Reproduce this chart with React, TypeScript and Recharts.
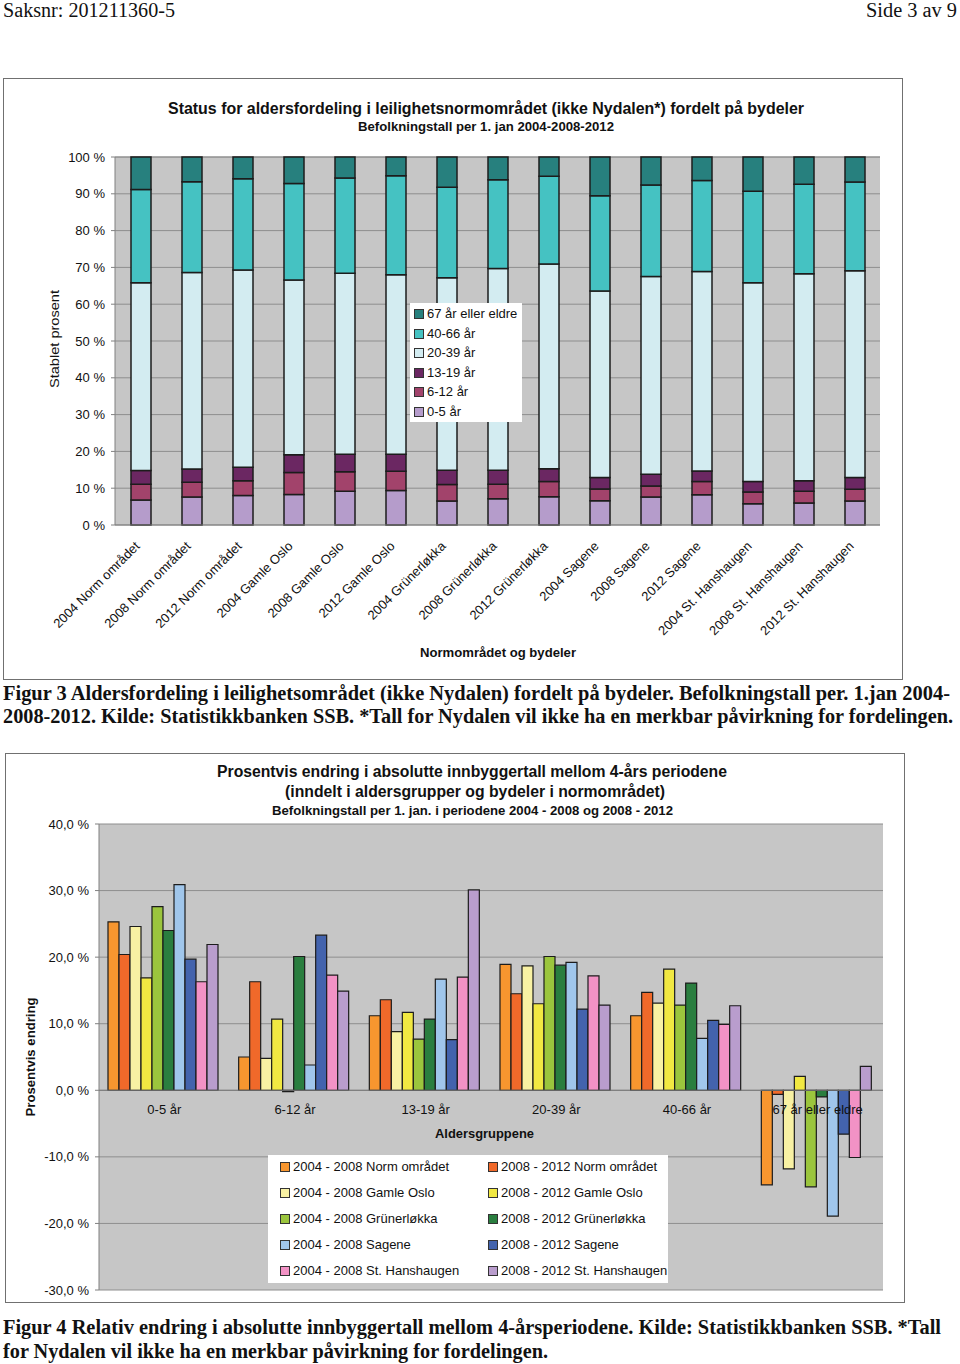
import React from "react";
import { BarChart, Bar, XAxis, YAxis, CartesianGrid, ReferenceLine } from "recharts";

// ---------- Chart 1 data (stacked percent) ----------
const categories1 = [
  "2004 Norm området", "2008 Norm området", "2012 Norm området",
  "2004 Gamle Oslo", "2008 Gamle Oslo", "2012 Gamle Oslo",
  "2004 Grünerløkka", "2008 Grünerløkka", "2012 Grünerløkka",
  "2004 Sagene", "2008 Sagene", "2012 Sagene",
  "2004 St. Hanshaugen", "2008 St. Hanshaugen", "2012 St. Hanshaugen",
];
const age0_5 = [6.8, 7.6, 8.0, 8.3, 9.2, 9.4, 6.5, 7.1, 7.7, 6.6, 7.6, 8.2, 5.8, 6.0, 6.5];
const age6_12 = [4.3, 4.0, 4.0, 6.0, 5.3, 5.2, 4.5, 4.0, 4.1, 3.2, 3.0, 3.6, 3.2, 3.2, 3.2];
const age13_19 = [3.7, 3.6, 3.7, 4.8, 4.7, 4.6, 3.9, 3.8, 3.5, 3.1, 3.2, 2.9, 2.8, 2.8, 3.2];
const age20_39 = [51.0, 53.4, 53.6, 47.5, 49.2, 48.8, 52.3, 54.8, 55.6, 50.7, 53.7, 54.2, 54.0, 56.3, 56.2];
const age40_66 = [25.4, 24.7, 24.8, 26.2, 25.9, 26.9, 24.6, 24.1, 23.9, 25.9, 24.9, 24.7, 24.9, 24.3, 24.1];
const age67 = [8.8, 6.7, 5.9, 7.2, 5.7, 5.1, 8.2, 6.2, 5.2, 10.5, 7.6, 6.4, 9.3, 7.4, 6.8];
const yTicks1 = [0, 10, 20, 30, 40, 50, 60, 70, 80, 90, 100];

const ageSeries = [
  { key: "a0_5", name: "0-5 år", color: "#b59ccb", values: age0_5 },
  { key: "a6_12", name: "6-12 år", color: "#a2436b", values: age6_12 },
  { key: "a13_19", name: "13-19 år", color: "#6b2762", values: age13_19 },
  { key: "a20_39", name: "20-39 år", color: "#d3ecf1", values: age20_39 },
  { key: "a40_66", name: "40-66 år", color: "#45c2c2", values: age40_66 },
  { key: "a67", name: "67 år eller eldre", color: "#27807e", values: age67 },
];

// ---------- Chart 2 data (grouped change) ----------
const groups2 = ["0-5 år", "6-12 år", "13-19 år", "20-39 år", "40-66 år", "67 år eller eldre"];
const normA = [25.3, 5.0, 11.2, 18.9, 11.2, -14.2];
const normB = [20.4, 16.3, 13.6, 14.5, 14.7, -0.6];
const gamleA = [24.6, 4.8, 8.8, 18.7, 13.1, -11.8];
const gamleB = [16.9, 10.7, 11.7, 13.0, 18.2, 2.1];
const grunA = [27.6, -0.2, 7.7, 20.1, 12.8, -14.5];
const grunB = [24.0, 20.1, 10.7, 18.8, 16.1, -1.0];
const sageA = [30.9, 3.8, 16.7, 19.2, 7.8, -18.9];
const sageB = [19.7, 23.3, 7.6, 12.2, 10.5, -6.6];
const hansA = [16.3, 17.3, 17.0, 17.2, 9.9, -10.1];
const hansB = [21.9, 14.9, 30.1, 12.8, 12.7, 3.6];
const yTicks2 = [-30, -20, -10, 0, 10, 20, 30, 40];

const changeSeries = [
  { key: "s1", name: "2004 - 2008 Norm området", color: "#f7962f", values: normA },
  { key: "s2", name: "2008 - 2012 Norm området", color: "#f0692a", values: normB },
  { key: "s3", name: "2004 - 2008 Gamle Oslo", color: "#f8f1a3", values: gamleA },
  { key: "s4", name: "2008 - 2012 Gamle Oslo", color: "#f1e842", values: gamleB },
  { key: "s5", name: "2004 - 2008 Grünerløkka", color: "#9bc53d", values: grunA },
  { key: "s6", name: "2008 - 2012 Grünerløkka", color: "#2a7e3f", values: grunB },
  { key: "s7", name: "2004 - 2008 Sagene", color: "#a0c6eb", values: sageA },
  { key: "s8", name: "2008 - 2012 Sagene", color: "#4363ad", values: sageB },
  { key: "s9", name: "2004 - 2008 St. Hanshaugen", color: "#f292c5", values: hansA },
  { key: "s10", name: "2008 - 2012 St. Hanshaugen", color: "#b99dcd", values: hansB },
];

const data1 = categories1.map((c, i) => {
  const row: any = { name: c };
  ageSeries.forEach((s) => (row[s.key] = s.values[i]));
  return row;
});
const data2 = groups2.map((g, i) => {
  const row: any = { name: g };
  changeSeries.forEach((s) => (row[s.key] = s.values[i]));
  return row;
});

const SANS = "'Liberation Sans', Arial, sans-serif";
const SERIF = "'Liberation Serif', 'Times New Roman', serif";
const PLOT_BG = "#c6c6c6";
const GRID = "#8e8e8e";

// chart 2 geometry
const W2 = 900;
const H2 = 550;
const M2 = { top: 71, right: 22, bottom: 12, left: 34 };
const XH2 = 1;
const Y2MIN = -30;
const Y2MAX = 40;
const PLOT_H2 = H2 - M2.top - M2.bottom - XH2;
const ZERO_FROM_BOTTOM = (PLOT_H2 * (0 - Y2MIN)) / (Y2MAX - Y2MIN);

const RotTick = (props: any) => {
  const { x, y, payload } = props;
  const ay = y + 22;
  return (
    <text x={x} y={ay} transform={`rotate(-45 ${x} ${ay})`} textAnchor="end"
      fontSize={13} fill="#111" fontFamily={SANS}>
      {payload.value}
    </text>
  );
};

const GroupTick = (props: any) => {
  const { x, y, payload } = props;
  return (
    <text x={x} y={y - ZERO_FROM_BOTTOM + 24} textAnchor="middle" fontSize={13} fill="#111" fontFamily={SANS}>
      {payload.value}
    </text>
  );
};

const T = ({ x, y, len, size, bold, serif, rotate, children }: any) => (
  <text
    x={x}
    y={y}
    fontSize={size}
    fontWeight={bold ? "bold" : "normal"}
    fontFamily={serif ? SERIF : SANS}
    textLength={len}
    lengthAdjust="spacingAndGlyphs"
    textAnchor={rotate ? "middle" : "start"}
    transform={rotate ? `rotate(-90 ${x} ${y})` : undefined}
    fill="#111"
  >
    {children}
  </text>
);

const Swatch = ({ color }: any) => (
  <span style={{ display: "inline-block", width: 8, height: 8, background: color, border: "1px solid #333", marginRight: 3 }} />
);

export default function App() {
  return (
    <div style={{ position: "absolute", left: 0, top: 0, width: 960, height: 1364, background: "#fff", fontFamily: SANS }}>
      {/* Frame 1 */}
      <div style={{ position: "absolute", left: 3, top: 78, width: 900, height: 602, border: "1.5px solid #707070", boxSizing: "border-box" }} />
      <div style={{ position: "absolute", left: 3, top: 78 }}>
        <BarChart width={900} height={602} data={data1} barSize={20}
          margin={{ top: 79, right: 23, bottom: 30, left: 62 }}>
          <CartesianGrid vertical={false} stroke={GRID} fill={PLOT_BG} fillOpacity={1} />
          <XAxis dataKey="name" height={125} interval={0} tickLine={false} tickSize={0} tickMargin={0}
            axisLine={{ stroke: "#808080" }} tick={<RotTick />} />
          <YAxis width={50} domain={[0, 100]} ticks={yTicks1} tickFormatter={(v: number) => `${v} %`}
            tickSize={4} tickMargin={6} axisLine={{ stroke: "#808080" }} tickLine={{ stroke: "#808080" }}
            tick={{ fontSize: 13, fill: "#111", fontFamily: SANS }} />
          <YAxis yAxisId="r" orientation="right" width={0} domain={[0, 100]} tick={false} tickLine={false}
            axisLine={{ stroke: "#a8a8a8" }} />
          {ageSeries.map((s) => (
            <Bar key={s.key} dataKey={s.key} name={s.name} stackId="a" fill={s.color}
              stroke="#1c1c1c" strokeWidth={1.5} isAnimationActive={false} />
          ))}
        </BarChart>
      </div>
      {/* Legend 1 */}
      <div style={{ position: "absolute", left: 410, top: 303, width: 112, height: 119, background: "#fff" }}>
        {[...ageSeries].reverse().map((s, i) => (
          <div key={s.key} style={{ position: "absolute", left: 4, top: 3 + i * 19.6, fontSize: 13, lineHeight: "16px", whiteSpace: "nowrap", color: "#111", display: "flex", alignItems: "center" }}>
            <Swatch color={s.color} />
            {s.name}
          </div>
        ))}
      </div>

      {/* Frame 2 */}
      <div style={{ position: "absolute", left: 5, top: 753, width: 900, height: 550, border: "1.5px solid #707070", boxSizing: "border-box" }} />
      <div style={{ position: "absolute", left: 5, top: 753 }}>
        <BarChart width={W2} height={H2} data={data2} barCategoryGap={9} barGap={0} margin={M2}>
          <CartesianGrid vertical={false} stroke={GRID} fill={PLOT_BG} fillOpacity={1} />
          <XAxis dataKey="name" height={XH2} interval={0} tickLine={false} tickSize={0} tickMargin={0}
            axisLine={false} tick={<GroupTick />} />
          <YAxis width={60} domain={[Y2MIN, Y2MAX]} ticks={yTicks2}
            tickFormatter={(v: number) => `${v.toFixed(1).replace(".", ",")} %`}
            tickSize={4} tickMargin={6} axisLine={{ stroke: "#808080" }} tickLine={{ stroke: "#808080" }}
            tick={{ fontSize: 13, fill: "#111", fontFamily: SANS }} />
          <YAxis yAxisId="r" orientation="right" width={0} domain={[Y2MIN, Y2MAX]} tick={false} tickLine={false}
            axisLine={{ stroke: "#a8a8a8" }} />
          <ReferenceLine y={0} stroke="#7a7a7a" strokeWidth={1} />
          {changeSeries.map((s) => (
            <Bar key={s.key} dataKey={s.key} name={s.name} fill={s.color}
              stroke="#1c1c1c" strokeWidth={1.2} isAnimationActive={false} />
          ))}
        </BarChart>
      </div>
      {/* Legend 2 */}
      <div style={{ position: "absolute", left: 268, top: 1155, width: 400, height: 128, background: "#fff" }}>
        {changeSeries.map((s, i) => (
          <div key={s.key} style={{ position: "absolute", left: (i % 2) * 208 + 12, top: Math.floor(i / 2) * 26 + 4, fontSize: 13, lineHeight: "16px", whiteSpace: "nowrap", color: "#111", display: "flex", alignItems: "center" }}>
            <Swatch color={s.color} />
            {s.name}
          </div>
        ))}
      </div>

      {/* Text overlay */}
      <svg width={960} height={1364} style={{ position: "absolute", left: 0, top: 0, pointerEvents: "none" }}>
        <T x={3} y={17} len={172} size={20} serif>Saksnr: 201211360-5</T>
        <T x={866} y={17} len={91} size={20} serif>Side 3 av 9</T>

        <T x={168} y={114} len={636} size={16} bold>Status for aldersfordeling i leilighetsnormområdet (ikke Nydalen*) fordelt på bydeler</T>
        <T x={358} y={131} len={256} size={12.5} bold>Befolkningstall per 1. jan 2004-2008-2012</T>
        <T x={59} y={339} len={98} size={13} rotate>Stablet prosent</T>
        <T x={420} y={657} len={156} size={13} bold>Normområdet og bydeler</T>

        <T x={3} y={700} len={947} size={20} bold serif>Figur 3  Aldersfordeling i leilighetsområdet (ikke Nydalen) fordelt på bydeler. Befolkningstall per. 1.jan 2004-</T>
        <T x={3} y={723} len={950} size={20} bold serif>2008-2012. Kilde: Statistikkbanken SSB. *Tall for Nydalen vil ikke ha en merkbar påvirkning for fordelingen.</T>

        <T x={217} y={777} len={510} size={16} bold>Prosentvis endring i absolutte innbyggertall mellom 4-års periodene</T>
        <T x={285} y={797} len={380} size={16} bold>(inndelt i aldersgrupper og bydeler i normområdet)</T>
        <T x={272} y={815} len={401} size={12.5} bold>Befolkningstall per 1. jan. i  periodene 2004 - 2008 og 2008 - 2012</T>
        <T x={35} y={1057} len={119} size={13} bold rotate>Prosentvis endring</T>
        <T x={435} y={1138} len={99} size={13} bold>Aldersgruppene</T>

        <T x={3} y={1334} len={938} size={20} bold serif>Figur 4  Relativ endring i absolutte innbyggertall mellom 4-årsperiodene. Kilde: Statistikkbanken SSB. *Tall</T>
        <T x={3} y={1358} len={545} size={20} bold serif>for Nydalen vil ikke ha en merkbar påvirkning for fordelingen.</T>
      </svg>
    </div>
  );
}
